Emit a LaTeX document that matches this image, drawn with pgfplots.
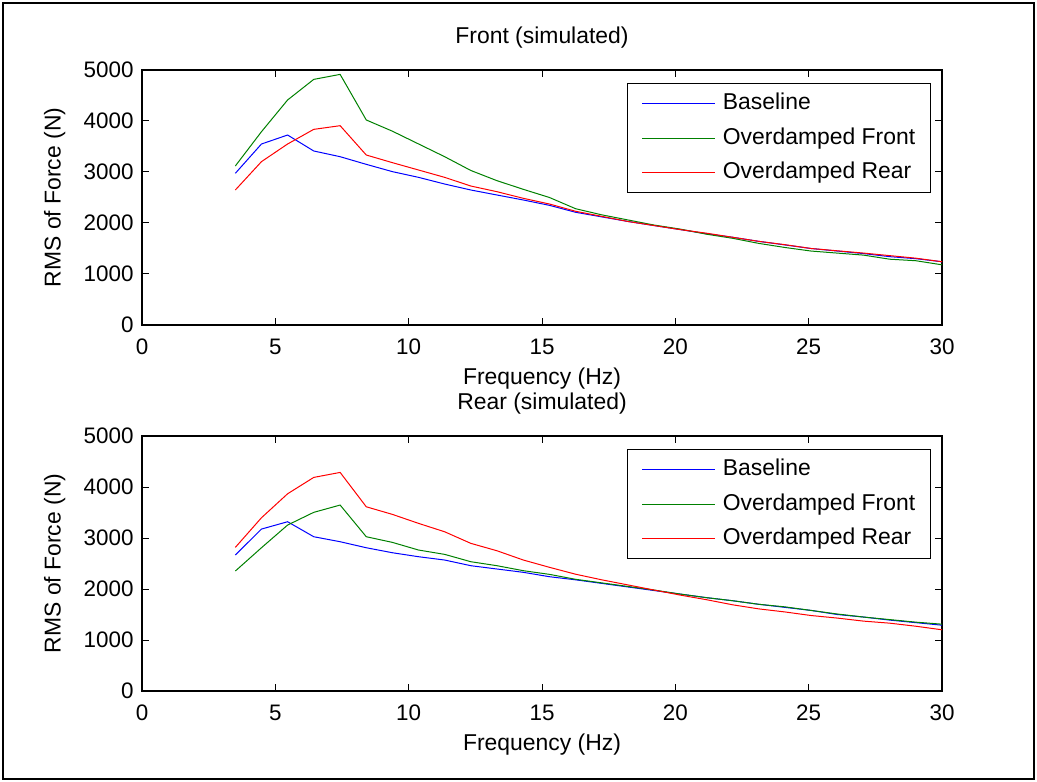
\documentclass[border=0pt]{standalone}
\usepackage{fontspec}
\setmainfont{Liberation Sans}
\usepackage{pgfplots}
\usepackage{pgfplotstable}
\pgfplotsset{compat=1.18}

\pgfplotstableread{
x     b     f     r
3.5   2974  3118  2647
4.48  3549  3790  3203
5.46  3725  4412  3549
6.44  3412  4816  3836
7.43  3300  4914  3908
8.41  3150  4020  3333
9.39  3007  3800  3183
10.37 2895  3550  3039
11.35 2764  3300  2895
12.33 2647  3030  2725
13.31 2549  2830  2614
14.30 2451  2660  2484
15.28 2346  2500  2372
16.26 2210  2280  2230
17.24 2120  2160  2130
18.22 2030  2060  2030
19.20 1950  1960  1950
20.19 1870  1880  1870
21.17 1790  1780  1800
22.15 1720  1700  1720
23.13 1640  1600  1640
24.11 1570  1520  1575
25.09 1500  1450  1500
26.07 1450  1410  1455
27.06 1400  1370  1410
28.04 1340  1290  1360
29.02 1300  1260  1310
30.00 1240  1180  1240
}\fronttable

\pgfplotstableread{
x     b     f     r
3.5   2666  2352  2816
4.48  3175  2809  3397
5.46  3319  3254  3867
6.44  3025  3503  4188
7.43  2927  3646  4286
8.41  2809  3025  3612
9.39  2711  2914  3463
10.37 2633  2764  3287
11.35 2568  2679  3122
12.33 2457  2535  2895
13.31 2392  2457  2750
14.30 2327  2359  2568
15.28 2241  2287  2425
16.26 2180  2190  2290
17.24 2110  2120  2180
18.22 2040  2050  2080
19.20 1970  1980  1980
20.19 1900  1900  1880
21.17 1830  1830  1790
22.15 1770  1770  1690
23.13 1700  1700  1610
24.11 1640  1650  1550
25.09 1580  1580  1480
26.07 1500  1510  1430
27.06 1450  1450  1370
28.04 1390  1400  1330
29.02 1340  1350  1270
30.00 1290  1310  1200
}\reartable

\definecolor{mblue}{rgb}{0,0,1}
\definecolor{mgreen}{rgb}{0,0.5,0}
\definecolor{mred}{rgb}{1,0,0}

\pgfplotsset{
  mstyle/.style={
    width=800bp, height=255bp, scale only axis,
    anchor=south west,
    xmin=0, xmax=30, ymin=0, ymax=5000,
    xtick={0,5,...,30}, ytick={0,1000,...,5000},
    tick align=inside, major tick length=7bp,
    axis line style={line width=1.2bp},
    every tick/.style={black, line width=1bp},
    font=\fontsize{23}{25}\selectfont,
    tick label style={font=\fontsize{22.5}{25}\selectfont},
    /pgf/number format/assume math mode=true,
    /pgf/number format/1000 sep={},
    scaled y ticks=false,
    xticklabel style={anchor=center, yshift=-22bp},
    yticklabel style={anchor=east, xshift=-5bp},
    title style={at={(axis description cs:0.5,1)}, anchor=center, yshift=26bp},
    xlabel style={at={(axis description cs:0.5,0)}, anchor=center, yshift=-54bp},
    ylabel style={at={(axis description cs:-0.109,0.5)}, anchor=center},
    xlabel={Frequency (Hz)},
    ylabel={RMS of Force (N)},
    legend cell align=left,
    legend style={at={(axis description cs:0.986,0.949)}, anchor=north east,
      draw=black, line width=1.2bp, fill=white,
      inner xsep=14bp, inner ysep=7bp, row sep=8.5bp, column sep=6bp,
      nodes={inner xsep=1bp, inner ysep=1bp, text height=18bp, text depth=6bp}},
    legend image code/.code={\draw[#1, line width=1.1bp] (3bp,0bp) -- (76bp,0bp);},
  },
}

\begin{document}
\begin{tikzpicture}
\useasboundingbox (0bp,0bp) rectangle (1037bp,782bp);
\draw[line width=2bp] (3bp,3bp) rectangle (1034bp,779bp);

\begin{axis}[mstyle, at={(142bp,457bp)}, title={Front (simulated)}]
\addplot[mblue, line width=1bp] table[x=x, y=b] {\fronttable};
\addplot[mgreen, line width=1bp] table[x=x, y=f] {\fronttable};
\addplot[mred, line width=1bp] table[x=x, y=r] {\fronttable};
\legend{Baseline, Overdamped Front, Overdamped Rear}
\end{axis}

\begin{axis}[mstyle, at={(142bp,91bp)}, title={Rear (simulated)}]
\addplot[mblue, line width=1bp] table[x=x, y=b] {\reartable};
\addplot[mgreen, line width=1bp] table[x=x, y=f] {\reartable};
\addplot[mred, line width=1bp] table[x=x, y=r] {\reartable};
\legend{Baseline, Overdamped Front, Overdamped Rear}
\end{axis}
\end{tikzpicture}
\end{document}
